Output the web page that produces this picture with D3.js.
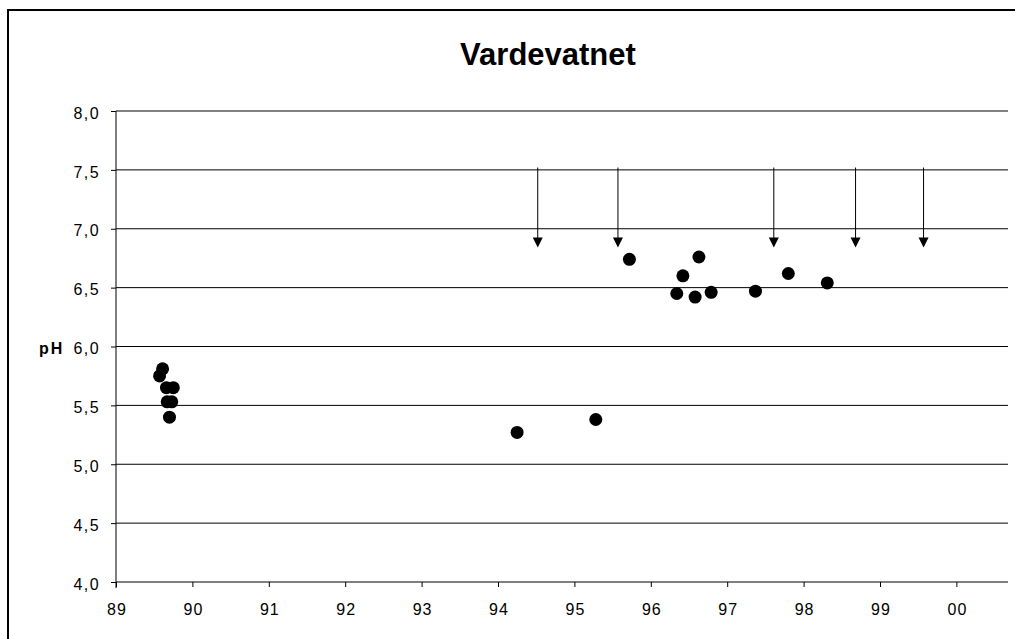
<!DOCTYPE html>
<html><head><meta charset="utf-8">
<script src="https://cdn.jsdelivr.net/npm/d3@7"></script>
<style>body{margin:0;background:#fff}svg{display:block}text{font-family:"Liberation Sans",Arial,sans-serif}</style>
</head><body><svg id="c" width="1015" height="639"></svg>
<script>
const title = "Vardevatnet";
const yLabel = "pH";
const years = [89.57, 89.61, 89.66, 89.75, 89.67, 89.73, 89.70, 94.25, 95.28, 95.72, 96.34, 96.42, 96.58, 96.63, 96.79, 97.37, 97.80, 98.31];
const phValues = [5.75, 5.81, 5.65, 5.65, 5.53, 5.53, 5.40, 5.27, 5.38, 6.74, 6.45, 6.60, 6.42, 6.76, 6.46, 6.47, 6.62, 6.54];
const arrowYears = [94.52, 95.57, 97.61, 98.68, 99.57];
const arrowFrom = [7.52, 7.52, 7.52, 7.52, 7.52];
const arrowTo = [6.84, 6.84, 6.84, 6.84, 6.84];
const xTicks = [89, 90, 91, 92, 93, 94, 95, 96, 97, 98, 99, 100];
const xTickLabels = ["89", "90", "91", "92", "93", "94", "95", "96", "97", "98", "99", "00"];
const yTicks = [4.0, 4.5, 5.0, 5.5, 6.0, 6.5, 7.0, 7.5, 8.0];

const svg = d3.select("#c");
const L = 116, R = 1008, T = 111, B = 582;
const x = d3.scaleLinear().domain([89, 89 + (R - L) / 76.4]).range([L, R]);
const y = d3.scaleLinear().domain([4, 8]).range([B, T]);

// frame
svg.append("rect").attr("x", 8).attr("y", 10).attr("width", 1015).attr("height", 640)
  .attr("fill", "none").attr("stroke", "#000").attr("stroke-width", 2);

// gridlines
svg.append("g").selectAll("line").data(yTicks.filter(d => d > 4)).join("line")
  .attr("x1", L).attr("x2", R).attr("y1", d => y(d)).attr("y2", d => y(d))
  .attr("stroke", "#000").attr("stroke-width", 1);

// y axis
const yAxis = d3.axisLeft(y).tickValues(yTicks).tickSize(5).tickPadding(11)
  .tickFormat(d => d3.format(".1f")(d).replace(".", ","));
const gy = svg.append("g").attr("transform", `translate(${L},0)`).call(yAxis);
gy.select(".domain").attr("d", `M0,${T}V${B + 6}`);
gy.selectAll("text").attr("font-size", 16).attr("fill", "#000").attr("dy", "0.45em")
  .attr("letter-spacing", 1.4).style("font-family", "Liberation Sans, Arial, sans-serif");

// x axis
const xAxis = d3.axisBottom(x).tickValues(xTicks).tickSize(5).tickPadding(17)
  .tickFormat((d, i) => xTickLabels[i]);
const gx = svg.append("g").attr("transform", `translate(0,${B})`).call(xAxis);
gx.select(".domain").attr("d", `M${L},0H${R}`);
gx.selectAll("text").attr("font-size", 16).attr("fill", "#000").attr("dy", "0.71em")
  .attr("letter-spacing", 1).attr("dx", 0.5).style("font-family", "Liberation Sans, Arial, sans-serif");

// title
svg.append("text").attr("x", 548).attr("y", 65).attr("text-anchor", "middle")
  .attr("font-size", 31).attr("font-weight", "bold").text(title);
svg.append("text").attr("x", 39).attr("y", 354)
  .attr("font-size", 16).attr("font-weight", "bold").attr("letter-spacing", 2).text(yLabel);

// arrows
const ag = svg.append("g");
arrowYears.forEach((yr, i) => {
  const ax = x(yr), y0 = y(arrowFrom[i]), y1 = y(arrowTo[i]);
  ag.append("line").attr("x1", ax).attr("x2", ax).attr("y1", y0).attr("y2", y1 - 9)
    .attr("stroke", "#000").attr("stroke-width", 1);
  ag.append("path").attr("d", `M${ax - 5},${y1 - 10}L${ax + 5},${y1 - 10}L${ax},${y1}Z`).attr("fill", "#000");
});

// points
svg.append("g").selectAll("circle").data(years).join("circle")
  .attr("cx", d => x(d)).attr("cy", (d, i) => y(phValues[i])).attr("r", 6.5).attr("fill", "#000");
</script></body></html>
